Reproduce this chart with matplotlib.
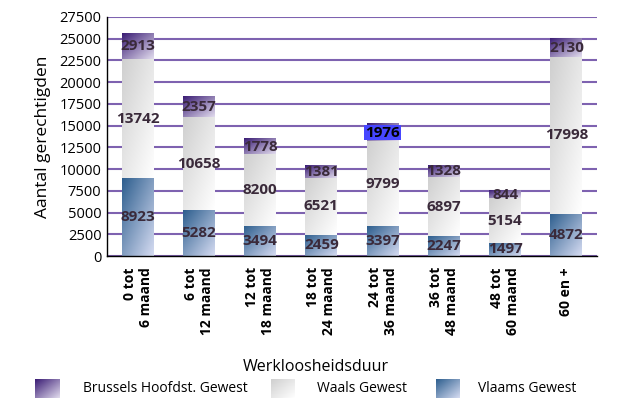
import numpy as np
import matplotlib
matplotlib.use("Agg")
import matplotlib.pyplot as plt
from matplotlib.colors import to_rgb

plt.rcParams["font.family"] = ["Open Sans", "DejaVu Sans"]

# Data
categories = ["0 tot\n6 maand", "6 tot\n12 maand", "12 tot\n18 maand", "18 tot\n24 maand",
              "24 tot\n36 maand", "36 tot\n48 maand", "48 tot\n60 maand", "60 en +"]
vlaams = [8923, 5282, 3494, 2459, 3397, 2247, 1497, 4872]
waals = [13742, 10658, 8200, 6521, 9799, 6897, 5154, 17998]
brussels = [2913, 2357, 1778, 1381, 1976, 1328, 844, 2130]

# gradient colours (top-left dark -> bottom-right light)
grad_vlaams = ("#2d5e8e", "#d6dcf2")
grad_waals = ("#cfcfcf", "#ffffff")
grad_brussels = ("#3a1c74", "#e2dcee")
label_color = "#3a2a3a"


def gradient(c0, c1, n=64):
    u = np.linspace(0, 1, n)
    t = (u[None, :] + u[:, None]) / 2.0
    a = np.array(to_rgb(c0))
    b = np.array(to_rgb(c1))
    return a + (b - a) * t[..., None]


fig = plt.figure(figsize=(6.36, 4.01), dpi=100)
ax = fig.add_axes([107 / 636, 1 - 256 / 401, 490 / 636, 239 / 401])

x = np.arange(len(categories))
width = 0.52
series = [(vlaams, grad_vlaams), (waals, grad_waals), (brussels, grad_brussels)]
bottoms = np.zeros(len(categories))
for vals, (c0, c1) in series:
    img = gradient(c0, c1)
    for i, v in enumerate(vals):
        ax.imshow(img, extent=(x[i] - width / 2, x[i] + width / 2, bottoms[i], bottoms[i] + v),
                  aspect="auto", origin="upper", zorder=2, interpolation="bilinear")
        kw = {}
        if vals is brussels and i == 4:
            kw["bbox"] = dict(facecolor="#4646ff", edgecolor="none", pad=0.5)
        ax.text(x[i], bottoms[i] + v / 2, str(v), ha="center", va="center",
                fontsize=11, fontweight="bold", color=label_color if not kw else "black",
                zorder=4, **kw)
    bottoms += np.array(vals)

ax.set_xlim(-0.5, len(categories) - 0.5)
ax.set_ylim(0, 27500)
ax.set_yticks(np.arange(0, 27501, 2500))
ax.tick_params(axis="y", length=0, labelsize=10.5, pad=4)
ax.tick_params(axis="x", length=0, pad=8)
ax.set_xticks(x)
ax.set_xticklabels(categories, rotation=90, fontweight="bold", fontsize=10,
                   multialignment="right")
ax.yaxis.grid(True, color="#7e62b0", linewidth=1.5)
ax.set_axisbelow(True)
for s in ["top", "right"]:
    ax.spines[s].set_visible(False)
for s in ["left", "bottom"]:
    ax.spines[s].set_color("black")
    ax.spines[s].set_linewidth(1.0)
ax.set_ylabel("Aantal gerechtigden", fontsize=12.5, labelpad=6)

fig.text(316 / 636, 1 - 367 / 401, "Werkloosheidsduur", ha="center", va="center", fontsize=11.5)

# legend with gradient swatches
legend_items = [("Brussels Hoofdst. Gewest", grad_brussels, 35, 83),
                ("Waals Gewest", grad_waals, 271, 317),
                ("Vlaams Gewest", grad_vlaams, 436, 478)]
for name, (c0, c1), sx, tx in legend_items:
    sax = fig.add_axes([sx / 636, 1 - 398 / 401, 24 / 636, 19 / 401])
    sax.imshow(gradient(c0, c1), aspect="auto", interpolation="bilinear")
    sax.axis("off")
    fig.text(tx / 636, 1 - 389 / 401, name, ha="left", va="center", fontsize=10)

fig.savefig("out.png", dpi=100)
